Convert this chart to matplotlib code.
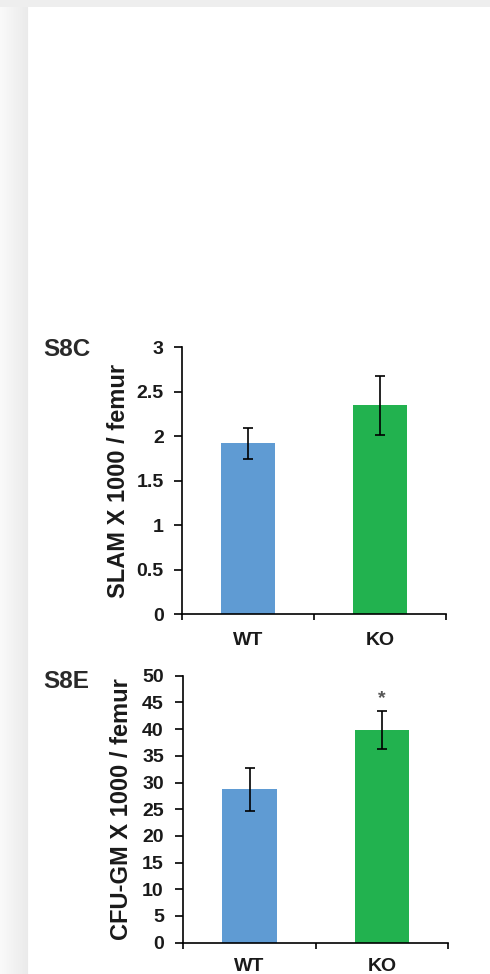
import numpy as np
import matplotlib
matplotlib.use("Agg")
import matplotlib.pyplot as plt

# ---- data ----
categories = ["WT", "KO"]
slam_means = [1.92, 2.35]
slam_errs = [0.17, 0.33]
cfu_means = [28.7, 39.8]
cfu_errs = [4.0, 3.6]
slam_yticks = [0, 0.5, 1, 1.5, 2, 2.5, 3]
slam_yticklabels = ["0", "0.5", "1", "1.5", "2", "2.5", "3"]
cfu_yticks = [0, 5, 10, 15, 20, 25, 30, 35, 40, 45, 50]
bar_colors = ["#5f9bd3", "#22b24f"]

plt.rcParams['font.family'] = ['Liberation Sans', 'DejaVu Sans']

W, H = 490, 974
fig = plt.figure(figsize=(W / 100, H / 100), dpi=100)
fig.patch.set_facecolor("white")

# background card with soft shadow
bg = fig.add_axes([0, 0, 1, 1])
bg.set_axis_off()
img = np.ones((H, W, 3))
xs = np.arange(28)
left_shade = 0.98 - (xs / 27.0) * 0.06
img[:, :28, :] = left_shade[None, :, None]
img[:7, :, :] = 0.935
bg.imshow(img, aspect='auto', extent=[0, 1, 0, 1], interpolation='bilinear')
bg.set_xlim(0, 1)
bg.set_ylim(0, 1)

text_color = "#1a1a1a"


def make_panel(rect, means, errs, yticks, yticklabels, ylim, ylabel, label_x, panel, panel_y, tick_pad, xlab_pad):
    ax = fig.add_axes(rect)
    ax.set_facecolor("none")
    x = np.array([0.5, 1.5])
    ax.bar(x, means, width=0.41, color=bar_colors, edgecolor="none", zorder=2)
    ax.errorbar(x, means, yerr=errs, fmt="none", ecolor="black", elinewidth=1.2,
                capsize=3.5, capthick=1.2, zorder=3)
    ax.set_xlim(0, 2)
    ax.set_ylim(*ylim)
    for s in ["top", "right"]:
        ax.spines[s].set_visible(False)
    for s in ["left", "bottom"]:
        ax.spines[s].set_linewidth(1.2)
        ax.spines[s].set_color("black")
        ax.spines[s].set_zorder(4)
    ax.set_xticks([0, 1, 2])
    ax.set_xticklabels([])
    ax.set_xticks(x, minor=True)
    ax.set_xticklabels(categories, minor=True, fontsize=14, fontweight="bold", color=text_color)
    ax.tick_params(axis="x", which="major", direction="out", length=4.5, width=1.2)
    ax.tick_params(axis="x", which="minor", length=0, pad=xlab_pad)
    ax.set_yticks(yticks)
    ax.set_yticklabels(yticklabels, fontsize=14, fontweight="bold", color=text_color)
    ax.tick_params(axis="y", direction="out", length=6, width=1.2, pad=tick_pad)
    ax.set_ylabel(ylabel, fontsize=17, fontweight="bold", color=text_color)
    ax.yaxis.set_label_coords(label_x, 0.5)
    fig.text(43 / W, 1 - panel_y / H, panel, fontsize=17.5, fontweight="bold",
             color="#2a2a2a", ha="left", va="top")
    return ax


ax1 = make_panel([181.7 / W, 1 - 614.3 / H, 264.3 / W, 267 / H],
                 slam_means, slam_errs, slam_yticks, slam_yticklabels, (0, 3),
                 "SLAM X 1000 / femur", -0.196, "S8C", 338, 7, 13)

ax2 = make_panel([183.3 / W, 1 - 942.7 / H, 265 / W, 267 / H],
                 cfu_means, cfu_errs, cfu_yticks, [str(v) for v in cfu_yticks], (0, 50),
                 "CFU-GM X 1000 / femur", -0.19, "S8E", 670, 8, 11)
ax2.text(1.5, 44.9, "*", ha="center", va="baseline", fontsize=14, fontweight="bold", color="#555555")

fig.savefig("out.png", dpi=100)
